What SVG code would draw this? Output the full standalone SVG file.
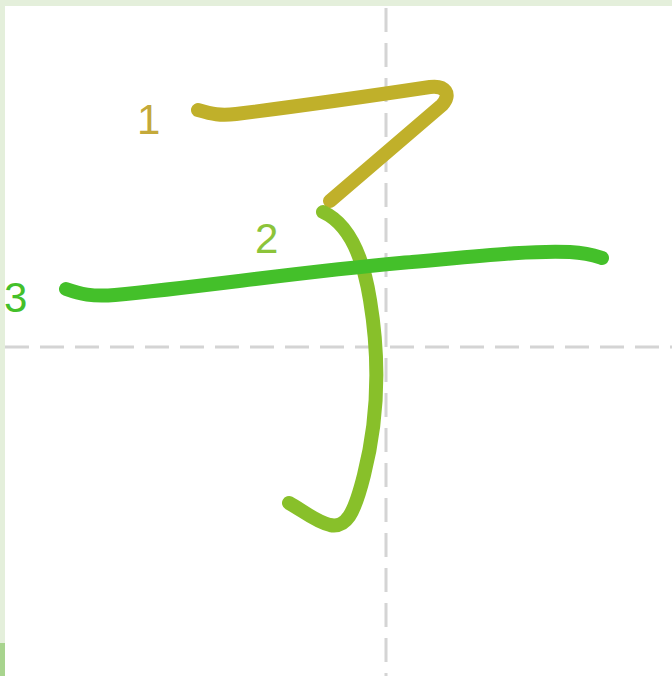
<svg xmlns="http://www.w3.org/2000/svg" width="672" height="676" viewBox="0 0 672 676">
<style>
.grid{stroke:#d4d4d4;stroke-width:3;stroke-dasharray:24 11;fill:none}
.stroke{fill:none;stroke-width:14;stroke-linecap:round;stroke-linejoin:round}
.num{font-family:"Liberation Sans",Arial,sans-serif;font-size:42px}
</style>
<rect width="672" height="676" fill="#ffffff"/>
<rect x="0" y="0" width="672" height="6" fill="#e4efdb"/>
<rect x="0" y="0" width="5" height="676" fill="#e4efdb"/>
<rect x="0" y="643" width="5" height="33" fill="#a8d48e"/>
<g id="grid">
<line class="grid" x1="386" y1="8" x2="386" y2="676"/>
<line class="grid" x1="5" y1="347" x2="672" y2="347"/>
</g>
<g id="stroke1">
<path class="stroke" stroke="#c0b02a" d="M198,110 C212,114 220,116 236,114 C300,106 370,96 430,87 C445,85 452,94 442,105 L330,201"/>
<text class="num" x="137" y="134" fill="#c4a93a">1</text>
</g>
<g id="stroke2">
<path class="stroke" stroke="#88c02a" d="M323,212 C345,222 362,250 370,300 C380,360 378,420 364,475 C354,515 346,528 330,525 C316,522 302,510 289,503"/>
<text class="num" x="255" y="253" fill="#8cc43a">2</text>
</g>
<g id="stroke3">
<path class="stroke" stroke="#44c02a" d="M66,289 C80,294 92,297 115,295 C200,287 300,272 400,263 C470,257 530,250 570,252 C588,253 596,256 602,258"/>
<text class="num" x="4" y="312" fill="#44c02a">3</text>
</g>
</svg>
